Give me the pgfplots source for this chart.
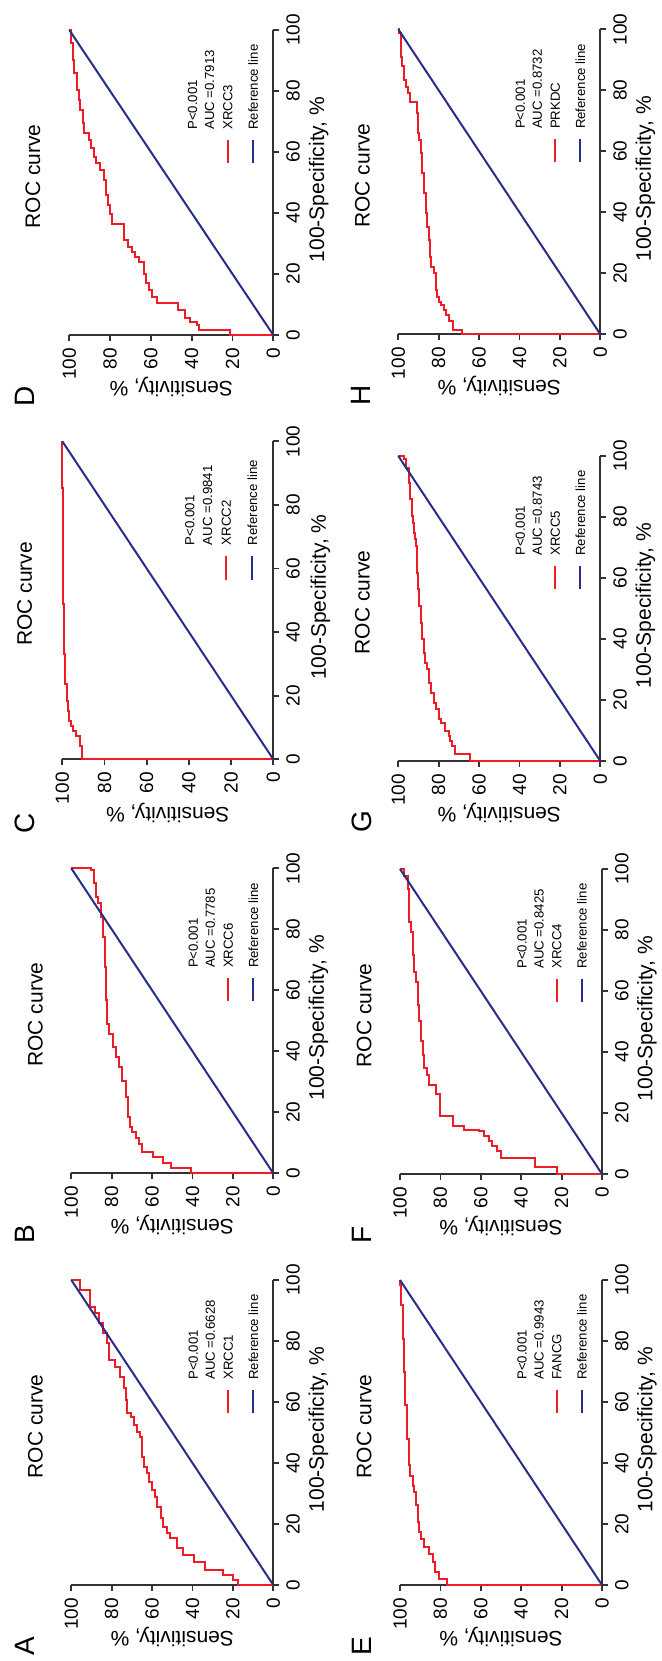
\documentclass[border=0pt]{standalone}
\usepackage{fontspec}
\setmainfont{Liberation Sans}
\usepackage{pgfplots}
\pgfplotsset{compat=1.18}

\definecolor{rocred}{RGB}{238,28,36}
\definecolor{refblue}{RGB}{40,45,140}
\definecolor{axisgray}{RGB}{50,50,50}

\newcommand{\lblfont}{\fontsize{10.5}{12}\selectfont}
\newcommand{\legfont}{\fontsize{6.6}{7.5}\selectfont}

\tikzset{legtext/.style={rotate=90, anchor=west, font=\legfont, inner sep=0pt}}

\pgfplotsset{
  rocbase/.style={
    scale only axis, anchor=south east,
    xmin=0, xmax=100, ymin=0, ymax=100, x dir=reverse,
    axis x line*=bottom, axis y line*=right,
    axis line style={draw=axisgray, line width=0.9pt, -},
    every tick/.style={draw=axisgray, line width=0.9pt},
    tick align=outside, major tick length=3pt,
    xtick={0,20,40,60,80,100}, ytick={0,20,40,60,80,100},
    minor tick num=0,
    tick label style={font=\fontsize{9.5}{11}\selectfont, text=black},
    xticklabel style={rotate=90, anchor=east},
    yticklabel style={rotate=90, anchor=north},
    /pgf/number format/assume math mode=true,
    clip=false,
  },
}

% #1 x, #2 y (spec0/sens0 corner), #3 width (sens), #4 height (spec), #5 letter x, #6 letter, #7 gene, #8 AUC, #9 data rows: 100-spec sens
\newcommand{\rocpanel}[9]{%
\begin{axis}[rocbase, at={(#1,#2)}, width=#3, height=#4]
\addplot[rocred, line width=1pt, const plot mark right] table[x index=1, y index=0, row sep=\\] {#9};
\addplot[refblue, line width=1pt] coordinates {(0,0) (100,100)};
% legend
\node[legtext] at (axis cs:39.6,67.2) {P<0.001};
\node[legtext] at (axis cs:31.2,67.2) {AUC =#8};
\node[legtext] at (axis cs:22.3,67.2) {#7};
\node[legtext] at (axis cs:9.9,67.2) {Reference line};
\draw[rocred, line width=1pt] (axis cs:22.3,56.4) -- (axis cs:22.3,63.9);
\draw[refblue, line width=1pt] (axis cs:9.9,56.4) -- (axis cs:9.9,63.9);
% titles
\node[rotate=90, font=\lblfont] at (axis description cs:-0.178,0.52) {ROC curve};
\node[rotate=90, font=\lblfont] at (axis description cs:1.223,0.51) {100-Specificity, \%};
\node[rotate=180, font=\lblfont] at (axis description cs:0.5,-0.17) {Sensitivity, \%};
\node[rotate=90, font=\fontsize{14}{16}\selectfont] at (axis description cs:#5,-0.2) {#6};
\end{axis}}

\begin{document}
\begin{tikzpicture}
\useasboundingbox (0,0) rectangle (331pt,830.5pt);

% A XRCC1
\rocpanel{136.65pt}{38pt}{101pt}{152.5pt}{-0.228}{A}{XRCC1}{0.6628}{0 0\\ 0 17.3\\ 1.6 19.8\\ 3.3 24.7\\ 4.9 33.8\\ 7.7 39.5\\ 9.8 44.8\\ 12.0 47.8\\ 15.3 51.1\\ 16.9 52.7\\ 19.1 54.4\\ 21.9 55.7\\ 25.7 57.7\\ 29.0 58.5\\ 31.1 60.1\\ 33.9 61.4\\ 36.6 62.6\\ 38.8 64.2\\ 42.1 65.1\\ 48.6 65.9\\ 50.3 67.5\\ 52.5 69.2\\ 55.2 70.5\\ 56.3 72.2\\ 60.7 72.8\\ 64.5 73.8\\ 68.3 75.8\\ 71.6 78.3\\ 73.8 81.5\\ 79.2 82.4\\ 82.5 84.3\\ 85.8 86.5\\ 89.1 88.5\\ 91.3 90.6\\ 93.4 90.9\\ 96.7 95.6\\ 100 100\\}

% B XRCC6
\rocpanel{136.65pt}{243.85pt}{101pt}{152.5pt}{-0.228}{B}{XRCC6}{0.7785}{0 0\\ 0 40.7\\ 1.75 50.7\\ 3.3 54.8\\ 5.3 59.8\\ 6.9 64.8\\ 9.6 66.4\\ 11.6 68.1\\ 13.5 69.8\\ 15.1 71.1\\ 18.4 71.9\\ 25.0 73.1\\ 30.4 74.8\\ 34.8 76.4\\ 38.1 78.1\\ 41.4 79.4\\ 45.8 81.5\\ 49.1 82.5\\ 56.7 82.8\\ 67.7 83.5\\ 77.5 84.3\\ 84.1 85.5\\ 88.5 86.7\\ 90.7 88.0\\ 95.1 88.9\\ 99.5 90.0\\ 100 100\\}

% C XRCC2
\rocpanel{136.65pt}{450.85pt}{105.5pt}{159pt}{-0.177}{C}{XRCC2}{0.9841}{0 0\\ 0 90.8\\ 4.2 91.6\\ 7.3 93.5\\ 8.9 95.1\\ 10.5 95.8\\ 12.0 96.7\\ 15.2 97.2\\ 18.3 97.9\\ 23.6 98.6\\ 33.0 99.0\\ 48.7 99.5\\ 85.3 100\\ 100 100\\}

% D XRCC3
\rocpanel{136.65pt}{663pt}{102pt}{152.5pt}{-0.218}{D}{XRCC3}{0.7913}{0 0\\ 0 21.2\\ 1.6 36.2\\ 3.3 37.5\\ 4.4 41\\ 5.5 43.2\\ 8.2 46.5\\ 10.4 57.1\\ 12.4 59.5\\ 14.8 61\\ 16.9 62.5\\ 20.0 63.3\\ 24.0 66\\ 25.7 67.7\\ 27.3 69.5\\ 29.0 71.1\\ 31.1 73.4\\ 36.3 79.1\\ 39.6 80\\ 42.6 81.2\\ 45.9 82\\ 50.8 83.2\\ 54.1 84.8\\ 56.3 86.8\\ 58.5 88.1\\ 61.2 89.4\\ 64.0 90.5\\ 66.1 93\\ 69.4 93.5\\ 73.8 94.6\\ 77.0 95.4\\ 80.3 96.2\\ 85.8 97.5\\ 90.2 98.2\\ 95.6 99.2\\ 100 100\\}

% E FANCG
\rocpanel{301pt}{38pt}{101pt}{152.5pt}{-0.187}{E}{FANCG}{0.9943}{0 0\\ 0 76.5\\ 2.0 80.9\\ 4.2 82.6\\ 7.4 83.9\\ 10.2 85.5\\ 12.4 88\\ 15.1 89.6\\ 17.3 90.5\\ 20.6 91.3\\ 26.1 92.1\\ 30.4 92.9\\ 32.6 93.8\\ 35.9 95.1\\ 39.2 95.7\\ 48.0 96.7\\ 58.9 97.4\\ 69.9 97.9\\ 80.8 98.7\\ 91.8 99.3\\ 98.4 100\\ 100 100\\}

% F XRCC4
\rocpanel{301pt}{243.5pt}{101pt}{152.5pt}{-0.187}{F}{XRCC4}{0.8425}{0 0\\ 0 22.2\\ 2.2 33.2\\ 5.4 50.2\\ 7.6 51.8\\ 9.2 54.3\\ 10.9 55.9\\ 12.5 58.4\\ 14.1 60.9\\ 14.3 68.3\\ 15.8 74.0\\ 19.0 80.3\\ 26.1 82.2\\ 29.3 85.5\\ 32.6 86.8\\ 34.8 88\\ 39.1 88.8\\ 43.5 89.6\\ 50.0 90.5\\ 55.4 91.3\\ 63.0 92.1\\ 66.3 92.9\\ 71.7 93.8\\ 79.3 94.6\\ 82.6 95.4\\ 93.5 96.2\\ 97.8 98\\ 100 100\\}

% G XRCC5
\rocpanel{300.15pt}{450pt}{101pt}{152.5pt}{-0.182}{G}{XRCC5}{0.8743}{0 0\\ 0 64.4\\ 2.2 71.8\\ 4.9 73.4\\ 6.6 74.3\\ 8.2 75.1\\ 9.8 76.7\\ 12.6 78.7\\ 13.7 80\\ 16.9 81.3\\ 19.1 82.5\\ 22.4 83.6\\ 25.7 84.9\\ 30.1 85.7\\ 32.2 86.6\\ 35.5 87.4\\ 39.9 88.2\\ 45.4 89\\ 50.8 89.8\\ 56.3 90.3\\ 61.7 90.7\\ 70.5 91.1\\ 72.7 91.8\\ 74.9 92.3\\ 78.1 92.8\\ 80.3 93.4\\ 85.8 94.4\\ 91.3 94.8\\ 96.2 96.4\\ 98.9 97.2\\ 100 100\\}

% H PRKDC
\rocpanel{300.15pt}{663.35pt}{101pt}{152.5pt}{-0.187}{H}{PRKDC}{0.8732}{0 0\\ 0 68.3\\ 1.4 72.7\\ 4.2 74.9\\ 6.3 76.5\\ 8.0 77.5\\ 9.6 79\\ 10.7 80\\ 12.3 80.7\\ 14.5 81.2\\ 20.0 82.3\\ 22.2 84.0\\ 25.5 84.3\\ 30.9 84.8\\ 35.3 85.6\\ 39.7 86.4\\ 46.2 87.3\\ 52.8 88.1\\ 59.3 88.9\\ 63.7 89.8\\ 65.9 90.3\\ 72.5 90.9\\ 76.3 94.2\\ 79.0 95.2\\ 81.2 96\\ 83.4 97.2\\ 87.8 98\\ 91.0 98.5\\ 95.4 98.8\\ 98.7 99.5\\ 100 100\\}

\end{tikzpicture}
\end{document}
